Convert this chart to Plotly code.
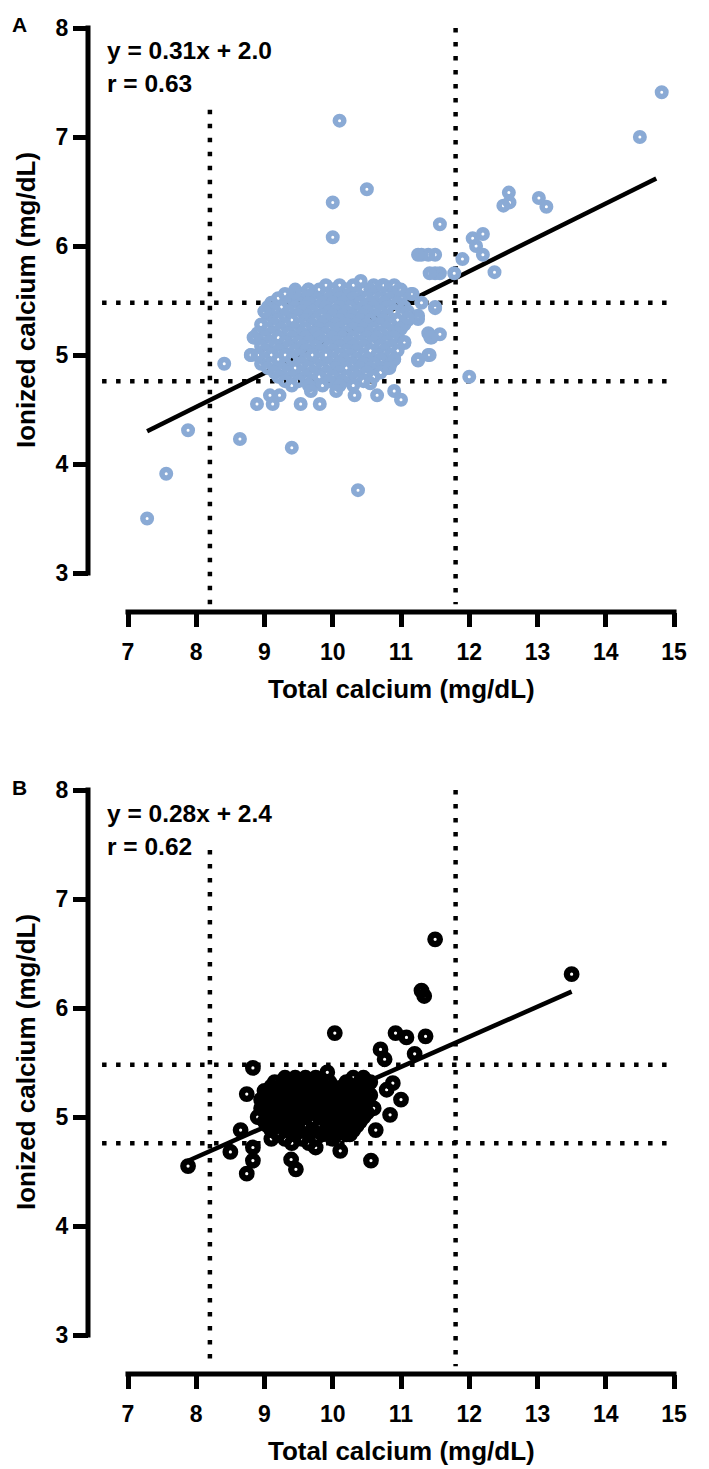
import plotly.graph_objects as go

# ------------------------------------------------------------------ data
# Panel A (blue): dense core read row by row (ionized Ca level -> total Ca values)
a_core_levels = [5.64, 5.60, 5.56, 5.52, 5.48, 5.44, 5.40, 5.36, 5.32, 5.28, 5.24, 5.20,
                 5.16, 5.12, 5.08, 5.04, 5.00, 4.96, 4.92, 4.88, 4.84, 4.80, 4.76, 4.72]
a_core_total = [
    [9.9, 10.1, 10.3, 10.6, 10.75, 10.9],
    [9.45, 9.65, 9.8, 10.0, 10.2, 10.45, 10.55, 11.0],
    [9.3, 9.55, 9.7, 9.9, 10.05, 10.25, 10.35, 10.6, 10.8, 11.15],
    [9.2, 9.4, 9.6, 9.75, 9.95, 10.1, 10.3, 10.5, 10.7, 10.85, 11.0],
    [9.1, 9.35, 9.5, 9.65, 9.85, 10.0, 10.15, 10.4, 10.55, 10.75, 10.95, 11.3],
    [9.05, 9.25, 9.45, 9.6, 9.8, 9.9, 10.1, 10.25, 10.45, 10.6, 10.8, 11.05, 11.5],
    [9.0, 9.15, 9.35, 9.55, 9.7, 9.95, 10.05, 10.2, 10.35, 10.5, 10.7, 10.9, 11.1],
    [9.1, 9.3, 9.5, 9.65, 9.85, 10.0, 10.15, 10.3, 10.45, 10.65, 10.8, 11.25],
    [9.05, 9.2, 9.4, 9.6, 9.75, 9.9, 10.1, 10.25, 10.4, 10.55, 10.75, 10.95, 11.1],
    [8.95, 9.15, 9.3, 9.5, 9.7, 9.85, 10.05, 10.2, 10.35, 10.5, 10.7, 10.85, 11.05],
    [9.05, 9.25, 9.45, 9.6, 9.8, 9.95, 10.1, 10.3, 10.45, 10.6, 10.8, 11.0],
    [8.9, 9.1, 9.35, 9.55, 9.75, 9.9, 10.05, 10.2, 10.4, 10.55, 10.7, 10.95, 11.4],
    [8.85, 9.0, 9.2, 9.4, 9.6, 9.8, 10.0, 10.15, 10.3, 10.5, 10.65, 10.9, 11.45],
    [9.05, 9.3, 9.5, 9.65, 9.85, 10.05, 10.25, 10.4, 10.6, 10.8, 11.05],
    [8.95, 9.15, 9.35, 9.55, 9.75, 9.95, 10.1, 10.3, 10.45, 10.7, 10.85],
    [9.0, 9.2, 9.45, 9.6, 9.8, 10.0, 10.2, 10.35, 10.55, 10.75, 10.95],
    [8.8, 8.9, 9.1, 9.3, 9.5, 9.7, 9.9, 10.1, 10.25, 10.45, 10.65, 10.85, 11.4],
    [9.0, 9.2, 9.4, 9.6, 9.8, 10.0, 10.15, 10.35, 10.5, 10.7, 10.9, 11.25],
    [8.95, 9.1, 9.3, 9.55, 9.75, 9.95, 10.1, 10.3, 10.45, 10.6, 10.85],
    [9.05, 9.25, 9.45, 9.65, 9.85, 10.05, 10.2, 10.4, 10.55, 10.8],
    [9.15, 9.35, 9.55, 9.7, 9.9, 10.1, 10.3, 10.5, 10.7],
    [9.2, 9.4, 9.6, 9.8, 10.0, 10.2, 10.35, 10.6],
    [9.3, 9.5, 9.7, 9.95, 10.15, 10.45],
    [9.4, 9.65, 9.85, 10.1, 10.3],
]
# Panel A scattered points (total, ionized)
a_edge_total = [9.08, 9.22, 9.68, 10.05, 10.32, 10.65, 10.9, 11.0, 10.55, 8.89, 9.12, 9.53,
                9.81, 9.40, 8.64, 10.37, 8.41, 8.84, 9.0, 8.8, 8.9, 11.25, 11.1, 11.5, 11.57,
                11.43, 11.42, 11.25, 11.05, 10.9, 10.83, 12.0, 9.44, 9.64, 10.41, 10.73, 10.97,
                11.17, 7.28, 7.56, 7.88, 10.1, 10.0, 10.0, 10.5, 11.57, 12.58, 12.5, 12.59,
                13.02, 13.13, 12.05, 12.2, 12.1, 12.2, 11.9, 12.37, 11.78, 11.5, 11.57, 11.42,
                11.5, 11.4, 11.3, 11.25, 14.5, 14.82]
a_edge_ionized = [4.63, 4.63, 4.67, 4.67, 4.63, 4.63, 4.67, 4.59, 4.74, 4.55, 4.55, 4.55,
                  4.55, 4.15, 4.23, 3.76, 4.92, 5.16, 5.40, 5.0, 5.0, 5.33, 5.34, 5.43, 5.19,
                  5.16, 5.0, 4.95, 5.11, 4.96, 4.88, 4.80, 5.57, 5.60, 5.68, 5.64, 5.60,
                  5.56, 3.50, 3.91, 4.31, 7.15, 6.40, 6.08, 6.52, 6.20, 6.49, 6.37, 6.40,
                  6.44, 6.36, 6.07, 6.11, 6.0, 5.92, 5.88, 5.76, 5.75, 5.75, 5.75, 5.75,
                  5.92, 5.92, 5.92, 5.92, 7.0, 7.41]
a_fit_total = [7.28, 14.74]
a_fit_ionized = [4.30, 6.62]

# Panel B (black)
b_core_levels = [5.36, 5.32, 5.28, 5.24, 5.20, 5.16, 5.12, 5.08, 5.04, 5.00, 4.96, 4.92,
                 4.88, 4.84, 4.80, 4.76]
b_core_total = [
    [9.3, 9.45, 9.6, 9.75, 10.3, 10.45],
    [9.15, 9.35, 9.5, 9.65, 9.8, 9.95, 10.2, 10.4, 10.55],
    [9.1, 9.25, 9.4, 9.55, 9.7, 9.85, 10.0, 10.15, 10.3, 10.5],
    [9.0, 9.2, 9.35, 9.5, 9.65, 9.8, 9.95, 10.1, 10.25, 10.45],
    [9.05, 9.15, 9.3, 9.45, 9.6, 9.75, 9.9, 10.05, 10.2, 10.35, 10.55],
    [8.95, 9.1, 9.25, 9.4, 9.55, 9.7, 9.85, 10.0, 10.15, 10.3, 10.5],
    [9.0, 9.2, 9.35, 9.5, 9.65, 9.8, 9.95, 10.1, 10.25, 10.45],
    [8.95, 9.1, 9.3, 9.45, 9.6, 9.75, 9.9, 10.05, 10.2, 10.4, 10.6],
    [9.05, 9.2, 9.4, 9.55, 9.7, 9.85, 10.0, 10.15, 10.35, 10.5],
    [8.9, 9.1, 9.25, 9.45, 9.6, 9.8, 9.95, 10.1, 10.3, 10.45],
    [9.0, 9.15, 9.35, 9.5, 9.7, 9.9, 10.05, 10.25, 10.4],
    [9.05, 9.25, 9.4, 9.6, 9.8, 10.0, 10.2, 10.35],
    [9.1, 9.3, 9.5, 9.7, 9.9, 10.1, 10.3],
    [9.2, 9.45, 9.65, 9.85, 10.05, 10.25],
    [9.3, 9.55, 9.75, 10.0],
    [9.4, 9.65],
]
b_edge_total = [10.03, 10.92, 11.08, 11.36, 11.2, 10.7, 10.76, 8.83, 9.92, 8.74, 10.79, 10.88,
                11.0, 10.84, 10.63, 8.65, 8.5, 7.88, 8.83, 8.83, 8.74, 9.39, 9.46, 10.56,
                9.75, 10.11, 10.2, 9.1, 11.3, 11.34, 11.5, 13.5]
b_edge_ionized = [5.77, 5.77, 5.73, 5.74, 5.58, 5.62, 5.53, 5.45, 5.41, 5.21, 5.25, 5.31,
                  5.16, 5.02, 4.88, 4.88, 4.68, 4.55, 4.72, 4.60, 4.48, 4.61, 4.52, 4.60,
                  4.72, 4.69, 4.84, 4.80, 6.16, 6.11, 6.63, 6.31]
b_fit_total = [7.85, 13.5]
b_fit_ionized = [4.59, 6.15]

# reference ranges
total_ref = [8.2, 11.8]
ionized_ref = [4.76, 5.48]

x_ticks = [7, 8, 9, 10, 11, 12, 13, 14, 15]
y_ticks = [3, 4, 5, 6, 7, 8]

panels = [
    dict(name="A", color="#8aaad5", size=8.5, lw=5.5,
         levels=a_core_levels, rows=a_core_total, ex=a_edge_total, ey=a_edge_ionized,
         fx=a_fit_total, fy=a_fit_ionized, eq="y = 0.31x + 2.0", r="r = 0.63",
         vtop=[7.25, 8.0]),
    dict(name="B", color="#000000", size=9.5, lw=6.3,
         levels=b_core_levels, rows=b_core_total, ex=b_edge_total, ey=b_edge_ionized,
         fx=b_fit_total, fy=b_fit_ionized, eq="y = 0.28x + 2.4", r="r = 0.62",
         vtop=[7.45, 8.0]),
]

# ------------------------------------------------------------------ layout geometry (pixels)
W, H = 709, 1469
XPX7, XPU = 120.0, 68.25      # pixel of x=7, pixels per unit
YPU = 109.0                   # pixels per unit (y)
TOPS = [20.0, 782.0]          # pixel row of y=8 for each panel
XR = [6.2, 15.3]
YR = [2.5, 8.15]
YAXIS_PX = 80.0
XAXIS_DROP = 584.0            # x-axis line below y=8 (pixels)

FONT = "Liberation Sans, Arial, Helvetica, sans-serif"

def pxx(v):
    return XPX7 + (v - 7) * XPU

fig = go.Figure()
layout = dict(width=W, height=H, margin=dict(l=0, r=0, t=0, b=0),
              paper_bgcolor="white", plot_bgcolor="rgba(0,0,0,0)",
              showlegend=False, annotations=[])

yaxis_x_val = 7 + (YAXIS_PX - XPX7) / XPU
xaxis_y_val = 8 - XAXIS_DROP / YPU
tickfont = dict(family=FONT, size=23, color="black", weight="bold")

for i, p in enumerate(panels):
    top = TOPS[i]
    sfx = "" if i == 0 else str(i + 1)
    xa, ya = "x" + sfx, "y" + sfx

    def pyy(v, top=top):
        return top + (8 - v) * YPU

    layout["xaxis" + sfx] = dict(
        domain=[pxx(XR[0]) / W, pxx(XR[1]) / W], range=XR,
        anchor="free", position=1 - (top + XAXIS_DROP) / H,
        showgrid=False, zeroline=False, showline=False,
        tickmode="array", tickvals=x_ticks,
        ticktext=["<b>%d</b>" % t for t in x_ticks],
        ticks="outside", ticklen=14, tickwidth=5, tickcolor="black",
        tickfont=tickfont, ticklabelstandoff=5,
    )
    layout["yaxis" + sfx] = dict(
        domain=[1 - pyy(YR[0]) / H, 1 - pyy(YR[1]) / H], range=YR,
        anchor="free", position=YAXIS_PX / W,
        showgrid=False, zeroline=False, showline=False,
        tickmode="array", tickvals=y_ticks,
        ticktext=["<b>%d</b>" % t for t in y_ticks],
        ticks="outside", ticklen=15, tickwidth=5, tickcolor="black",
        tickfont=tickfont, ticklabelstandoff=0,
    )

    dot = dict(color="black", width=4.5, dash="4.5px,9.5px")
    # reference dotted lines (beneath markers)
    for xv, yt in zip(total_ref, p["vtop"]):
        fig.add_trace(go.Scatter(x=[xv, xv], y=[yt, xaxis_y_val + 0.07], mode="lines",
                                 line=dot, xaxis=xa, yaxis=ya, hoverinfo="skip"))
    for yv in ionized_ref:
        fig.add_trace(go.Scatter(x=[6.62, 15.0], y=[yv, yv], mode="lines",
                                 line=dot, xaxis=xa, yaxis=ya, hoverinfo="skip"))
    # regression line
    fig.add_trace(go.Scatter(x=p["fx"], y=p["fy"], mode="lines",
                             line=dict(color="black", width=4.5), xaxis=xa, yaxis=ya))
    # axis lines
    fig.add_trace(go.Scatter(x=[7 - 0.037, 15 + 0.037], y=[xaxis_y_val, xaxis_y_val],
                             mode="lines", line=dict(color="black", width=5),
                             xaxis=xa, yaxis=ya, hoverinfo="skip"))
    fig.add_trace(go.Scatter(x=[yaxis_x_val, yaxis_x_val], y=[3 - 0.023, 8 + 0.023],
                             mode="lines", line=dict(color="black", width=5),
                             xaxis=xa, yaxis=ya, hoverinfo="skip"))

    # points
    xs, ys = [], []
    for lvl, row in zip(p["levels"], p["rows"]):
        for v in row:
            xs.append(v)
            ys.append(lvl)
    xs += p["ex"]
    ys += p["ey"]
    fig.add_trace(go.Scatter(x=xs, y=ys, mode="markers",
                             marker=dict(symbol="circle-open", size=p["size"],
                                         color=p["color"],
                                         line=dict(color=p["color"], width=p["lw"])),
                             xaxis=xa, yaxis=ya, cliponaxis=False))

    # texts
    bold = dict(family=FONT, color="black", weight="bold")
    layout["annotations"] += [
        dict(text="<b>%s</b>" % p["name"], x=2 / W, y=1 - (top - 3) / H,
             xref="paper", yref="paper", xanchor="left", yanchor="middle",
             showarrow=False, font=dict(size=21, **bold)),
        dict(text="<b>%s</b>" % p["eq"], x=97 / W, y=1 - (top + 23) / H,
             xref="paper", yref="paper", xanchor="left", yanchor="middle",
             showarrow=False, font=dict(size=24.5, **bold)),
        dict(text="<b>%s</b>" % p["r"], x=97 / W, y=1 - (top + 56) / H,
             xref="paper", yref="paper", xanchor="left", yanchor="middle",
             showarrow=False, font=dict(size=24.5, **bold)),
        dict(text="<b>Total calcium (mg/dL)</b>", x=pxx(11) / W, y=1 - (top + 661) / H,
             xref="paper", yref="paper", xanchor="center", yanchor="middle",
             showarrow=False, font=dict(size=26, **bold)),
        dict(text="<b>Ionized calcium (mg/dL)</b>", x=18 / W, y=1 - (top + 272) / H,
             xref="paper", yref="paper", xanchor="center", yanchor="middle",
             textangle=-90, showarrow=False, font=dict(size=26, **bold)),
    ]

fig.update_layout(**layout)
fig.write_html("out.html")
